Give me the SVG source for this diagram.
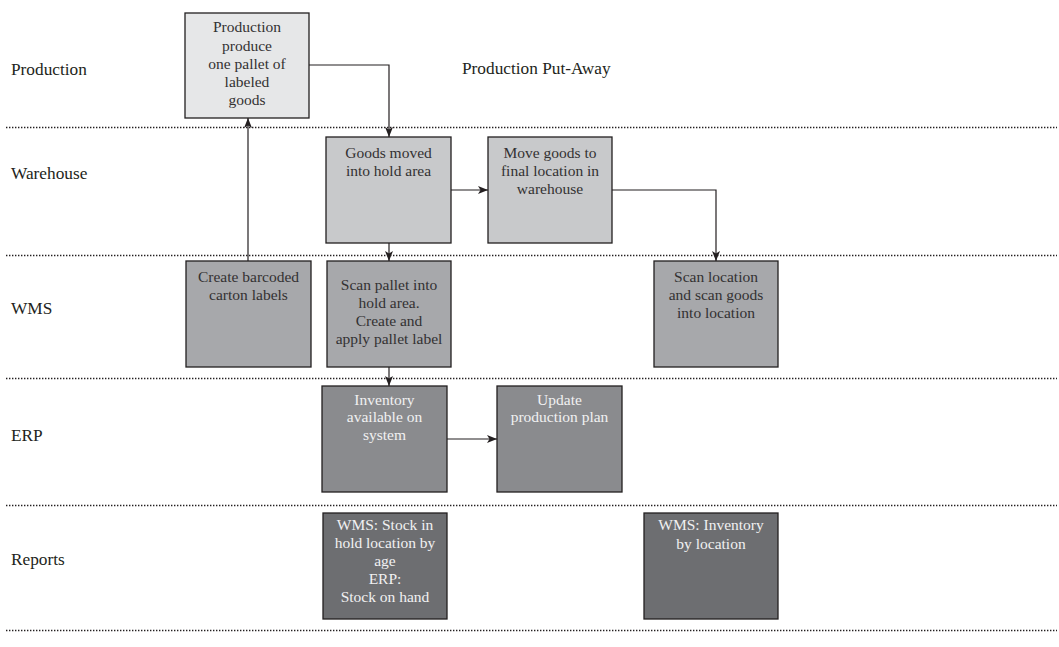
<svg xmlns="http://www.w3.org/2000/svg" width="1059" height="647" viewBox="0 0 1059 647">
<style>
.lane{font-family:"Liberation Serif",serif;font-size:17.3px;fill:#231f20}
.sep{stroke:#231f20;stroke-width:1.6;stroke-dasharray:1.4 1.6;fill:none}
.box{stroke:#231f20;stroke-width:1.3}
.t{font-family:"Liberation Serif",serif;font-size:15.5px;text-anchor:middle}
.dk{fill:#333132}
.lt{fill:#f1f1f2}
.conn{stroke:#231f20;stroke-width:1.2;fill:none}
</style>
<defs>
<marker id="ah" viewBox="0 0 10 8" refX="10" refY="4" markerWidth="10" markerHeight="8" markerUnits="userSpaceOnUse" orient="auto">
<path d="M0,0 L10,4 L0,8 L2.5,4 z" fill="#231f20"/>
</marker>
</defs>
<rect width="1059" height="647" fill="#ffffff"/>
<g id="lanes">
<text class="lane" x="11" y="75">Production</text>
<text class="lane" x="11" y="179">Warehouse</text>
<text class="lane" x="11" y="314">WMS</text>
<text class="lane" x="11" y="441">ERP</text>
<text class="lane" x="11" y="565">Reports</text>
<text class="lane" x="462" y="74">Production Put-Away</text>
<line class="sep" x1="6" y1="127.5" x2="1057" y2="127.5"/>
<line class="sep" x1="6" y1="255.5" x2="1057" y2="255.5"/>
<line class="sep" x1="6" y1="378.5" x2="1057" y2="378.5"/>
<line class="sep" x1="6" y1="505.5" x2="1057" y2="505.5"/>
<line class="sep" x1="6" y1="630.5" x2="1057" y2="630.5"/>
</g>
<g id="n-production">
<rect class="box" x="185" y="13" width="124" height="105" fill="#e6e7e8"/>
<text class="t dk" x="247" y="32">Production</text>
<text class="t dk" x="247" y="50.5">produce</text>
<text class="t dk" x="247" y="68.5">one pallet of</text>
<text class="t dk" x="247" y="87">labeled</text>
<text class="t dk" x="247" y="105">goods</text>
</g>
<g id="n-goods-moved">
<rect class="box" x="326" y="137" width="125" height="106" fill="#c8c9cb"/>
<text class="t dk" x="388.5" y="157.5">Goods moved</text>
<text class="t dk" x="388.5" y="176">into hold area</text>
</g>
<g id="n-move-goods">
<rect class="box" x="488" y="137" width="124" height="106" fill="#c8c9cb"/>
<text class="t dk" x="550" y="157.5">Move goods to</text>
<text class="t dk" x="550" y="176">final location in</text>
<text class="t dk" x="550" y="193.5">warehouse</text>
</g>
<g id="n-create-labels">
<rect class="box" x="186" y="261" width="125" height="106" fill="#a7a8ab"/>
<text class="t dk" x="248.5" y="281.5">Create barcoded</text>
<text class="t dk" x="248.5" y="299.5">carton labels</text>
</g>
<g id="n-scan-pallet">
<rect class="box" x="327" y="261" width="124" height="106" fill="#a7a8ab"/>
<text class="t dk" x="389" y="289.5">Scan pallet into</text>
<text class="t dk" x="389" y="307.5">hold area.</text>
<text class="t dk" x="389" y="325.5">Create and</text>
<text class="t dk" x="389" y="344">apply pallet label</text>
</g>
<g id="n-scan-location">
<rect class="box" x="654" y="261" width="124" height="106" fill="#a7a8ab"/>
<text class="t dk" x="716" y="282">Scan location</text>
<text class="t dk" x="716" y="300">and scan goods</text>
<text class="t dk" x="716" y="318">into location</text>
</g>
<g id="n-inventory">
<rect class="box" x="322" y="386" width="125" height="106" fill="#8a8b8e"/>
<text class="t lt" x="384.5" y="404.5">Inventory</text>
<text class="t lt" x="384.5" y="422">available on</text>
<text class="t lt" x="384.5" y="439.5">system</text>
</g>
<g id="n-update-plan">
<rect class="box" x="497" y="386" width="125" height="106" fill="#8a8b8e"/>
<text class="t lt" x="559.5" y="404.5">Update</text>
<text class="t lt" x="559.5" y="422">production plan</text>
</g>
<g id="n-report-stock">
<rect class="box" x="323" y="513" width="124" height="106" fill="#6d6e71"/>
<text class="t lt" x="385" y="530">WMS: Stock in</text>
<text class="t lt" x="385" y="548">hold location by</text>
<text class="t lt" x="385" y="565.5">age</text>
<text class="t lt" x="385" y="583.5">ERP:</text>
<text class="t lt" x="385" y="602">Stock on hand</text>
</g>
<g id="n-report-inventory">
<rect class="box" x="644" y="513" width="134" height="106" fill="#6d6e71"/>
<text class="t lt" x="711" y="530">WMS: Inventory</text>
<text class="t lt" x="711" y="548.5">by location</text>
</g>
<g id="connectors">
<path class="conn" d="M309,65 H389 V137" marker-end="url(#ah)"/>
<path class="conn" d="M451,190 H488" marker-end="url(#ah)"/>
<path class="conn" d="M612,190 H716 V261" marker-end="url(#ah)"/>
<path class="conn" d="M389,243 V261" marker-end="url(#ah)"/>
<path class="conn" d="M389,367 V386" marker-end="url(#ah)"/>
<path class="conn" d="M447,439 H497" marker-end="url(#ah)"/>
<path class="conn" d="M248,261 V118" marker-end="url(#ah)"/>
</g>
</svg>
